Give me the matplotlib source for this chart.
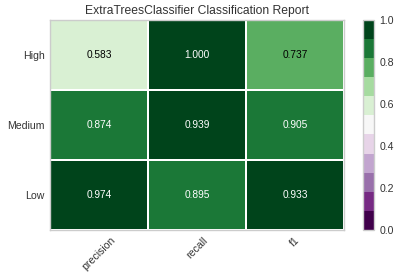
"""
Classification report heatmap for an ExtraTreesClassifier.
"""
import numpy as np
import matplotlib
matplotlib.use("Agg")
import matplotlib.pyplot as plt

plt.rcParams["font.family"] = ["Liberation Sans", "DejaVu Sans"]

TITLE   = "ExtraTreesClassifier Classification Report"
CLASSES = ["Low", "Medium", "High"]          # bottom -> top
METRICS = ["precision", "recall", "f1"]

precision = [0.974, 0.874, 0.583]
recall    = [0.895, 0.939, 1.000]
f1        = [0.933, 0.905, 0.737]

scores = np.array([precision, recall, f1]).T   # rows = classes, cols = metrics

cmap = plt.get_cmap("PRGn", 11)
GRAY = "#cccccc"
TEXT = "#333333"

fig = plt.figure(figsize=(4.01, 2.8), dpi=100)
ax  = fig.add_axes([0.125, 0.179, 0.733, 0.750])
cax = fig.add_axes([0.905, 0.179, 0.027, 0.750])

mesh = ax.pcolormesh(scores, cmap=cmap, vmin=0, vmax=1,
                     edgecolors="white", linewidth=1.2)

# cell labels: white on dark cells, black on light ones
for r in range(scores.shape[0]):
    for c in range(scores.shape[1]):
        val = scores[r, c]
        rgb = np.array(cmap(val)[:3])
        lum = 0.299 * rgb[0] + 0.587 * rgb[1] + 0.114 * rgb[2]
        color = "white" if lum < 0.45 else "black"
        ax.text(c + 0.5, r + 0.5, f"{val:.3f}", ha="center", va="center",
                fontsize=7.3, color=color)

ax.set_xticks(np.arange(len(METRICS)) + 0.5)
ax.set_xticklabels(METRICS, rotation=45, fontsize=7.6, color=TEXT)
ax.set_yticks(np.arange(len(CLASSES)) + 0.5)
ax.set_yticklabels(CLASSES, fontsize=7.6, color=TEXT)
ax.tick_params(length=0, pad=4)
ax.set_title(TITLE, fontsize=8.7, color=TEXT, pad=4)
for sp in ax.spines.values():
    sp.set_color(GRAY)
    sp.set_linewidth(1.0)

cb = fig.colorbar(mesh, cax=cax, ticks=np.arange(0, 1.01, 0.2))
cb.ax.tick_params(length=0, labelsize=7.6, labelcolor=TEXT, pad=4)
cb.ax.set_yticklabels([f"{t:.1f}" for t in np.arange(0, 1.01, 0.2)])
cb.outline.set_edgecolor(GRAY)
cb.outline.set_linewidth(1.0)

fig.savefig("out.png", dpi=100)
